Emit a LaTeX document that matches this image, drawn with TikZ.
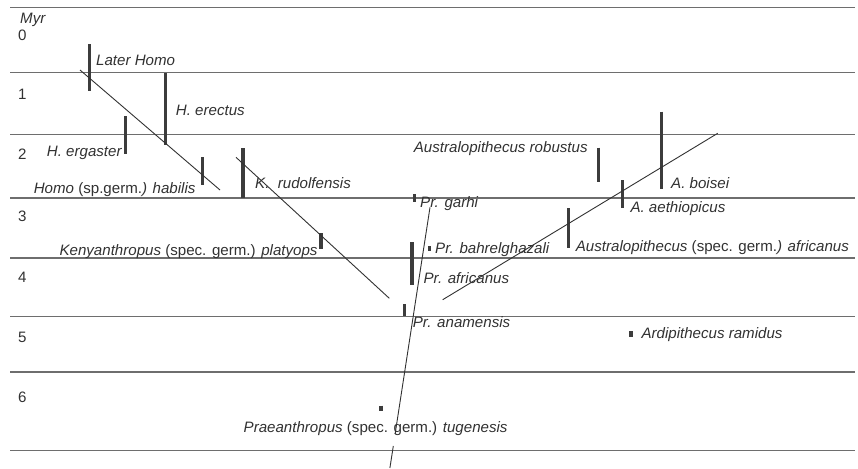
\documentclass[tikz,border=0pt]{standalone}
\usepackage{fontspec}
\setsansfont{Liberation Sans}
\usepackage{tikz}
\usetikzlibrary{positioning,backgrounds}
\tikzstyle{every picture}+=[font=\sffamily]
\definecolor{ink}{RGB}{50,50,50}
\definecolor{rulegray}{RGB}{110,110,110}
\definecolor{bargray}{RGB}{60,60,60}

\begin{document}
\begin{tikzpicture}
		[x=1pt, y=-1pt, font=\sffamily\fontsize{15.1}{18}\selectfont, inner sep=0pt,
		band/.style		= {draw=rulegray, line width=1.2pt},
		agebar/.style	= {draw=bargray, line width=3.2pt},
		lineage/.style	= {draw=ink, line width=0.9pt},
		taxon/.style	= {text=ink, anchor=base west},
		taxonleft/.style	= {text=ink, anchor=base east},
		tick/.style		= {text=ink, anchor=base west}]

		\useasboundingbox (0,0) rectangle (858,468);

		% time bands
		\foreach \y in {7.3,72.7,134.3,198,258,316.5,372,450.5}
			\draw [band] (10,\y) -- (855,\y);
		\node [tick] at (20,24) (myr) {\textit{Myr}};
		\foreach \n/\y in {0/40.4,1/99.7,2/159.7,3/221,4/282.7,5/342.7,6/402.7}
			\node [tick] at (18,\y) (age\n) {\n};

		% ranges
		\foreach \x/\a/\b in {89.7/44.3/90.7, 165.7/73.3/145, 125.7/116/154, 202.3/157.3/185.3,
				243/148.3/198, 321/233/249, 414.3/194.3/201.7, 598.7/147.7/182.3,
				661.3/111.7/189, 622.7/180/207.7, 568.3/208.3/248.3, 429.3/246.3/251.3,
				412/242.3/285, 404.3/304/316.3, 631/331.3/336.7, 381/405.7/411.3}
			\draw [agebar] (\x,\a) -- (\x,\b);

		\node [taxon]		at (96,66)			(laterhomo)		{\textit{Later Homo}};
		\node [taxon]		at (175.7,116)		(erectus)		{\textit{H. erectus}};
		\node [taxonleft]	at (122.3,156)		(ergaster)		{\textit{H. ergaster}};
		\node [taxonleft]	at (195.7,193.5)	(habilis)		{\textit{Homo} (sp.germ.\textit{)} \textit{habilis}};
		\node [taxon]		at (255,188.6)		(rudolfensis)	{\textit{K.\ \ rudolfensis}};
		\node [taxonleft]	at (317.7,255.5)	(platyops)		{\textit{Kenyanthropus} (spec. germ.) \textit{platyops}};
		\node [taxon]		at (420,207.5)		(garhi)			{\textit{Pr. garhi}};
		\node [taxon]		at (435,253.3)		(bahrel)		{\textit{Pr. bahrelghazali}};
		\node [taxon]		at (423.3,283.3)	(prafricanus)	{\textit{Pr. africanus}};
		\node [taxon]		at (412.7,327)		(anamensis)		{\textit{Pr. anamensis}};
		\node [taxonleft]	at (507.7,432)		(tugenesis)		{\textit{Praeanthropus} (spec. germ.) \textit{tugenesis}};
		\node [taxon]		at (413.7,152)		(robustus)		{\textit{Australopithecus robustus}};
		\node [taxon]		at (671,188.6)		(boisei)		{\textit{A. boisei}};
		\node [taxon]		at (630.3,212)		(aethiopicus)	{\textit{A. aethiopicus}};
		\node [taxon]		at (575.7,251)		(afafricanus)	{\textit{Australopithecus} (spec. germ.\textit{)} \textit{africanus}};
		\node [taxon]		at (641.3,338.6)	(ramidus)		{\textit{Ardipithecus ramidus}};

		% lineages
		\coordinate (homotop)	at (80,70);
		\coordinate (homoend)	at (220,190);
		\coordinate (kenyatop)	at (236,157.3);
		\coordinate (kenyaend)	at (389.3,298.3);
		\coordinate (praetop)	at (430,207.3);
		\coordinate (praegapa)	at (395.1,434);
		\coordinate (praegapb)	at (393.3,446);
		\coordinate (praeend)	at (389.9,468);
		\coordinate (austtop)	at (717.7,133.3);
		\coordinate (austend)	at (442.7,299.7);

		\draw [lineage] (homotop) -- (homoend);
		\draw [lineage] (kenyatop) -- (kenyaend);
		\draw [lineage] (praetop) -- (praegapa);
		\draw [lineage] (praegapb) -- (praeend);
		\draw [lineage] (austtop) -- (austend);

		\begin{scope}[on background layer]
		\fill [white] (0,0) rectangle (858,468);
		\end{scope}
		\end{tikzpicture}
\end{document}
